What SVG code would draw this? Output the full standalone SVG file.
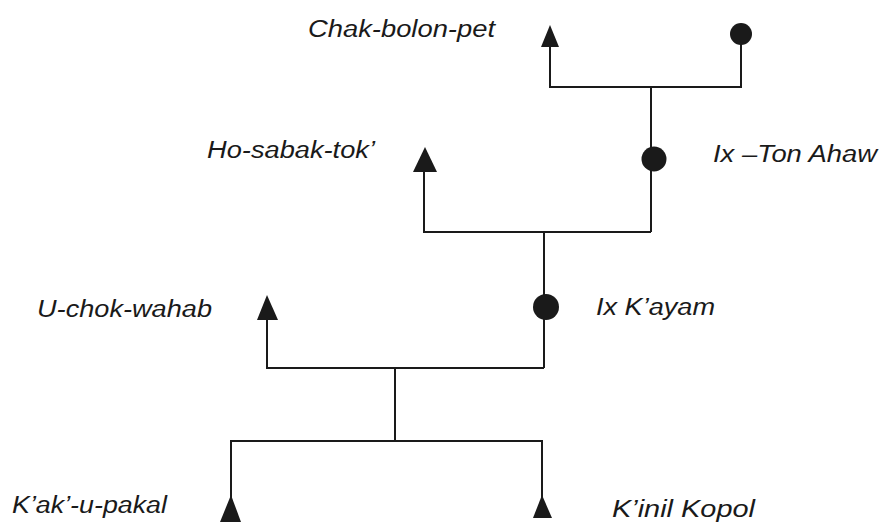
<svg xmlns="http://www.w3.org/2000/svg" width="885" height="522" viewBox="0 0 885 522">
<style>
.ln{stroke:#1a1a1a;stroke-width:2;fill:none}
.m{fill:#1a1a1a}
.t{font-family:"Liberation Sans",Arial,sans-serif;font-style:italic;font-size:23px;fill:#1a1a1a}
</style>
<rect width="885" height="522" fill="#fff"/>
<g id="connectors">
<polyline class="ln" points="550,40 550,87 741,87 741,40"/>
<polyline class="ln" points="651,87 651,232"/>
<polyline class="ln" points="424,165 424,232 651,232"/>
<polyline class="ln" points="544,232 544,368"/>
<polyline class="ln" points="267,312 267,368 544,368"/>
<polyline class="ln" points="395,368 395,441"/>
<polyline class="ln" points="231,505 231,441 542,441 542,505"/>
</g>
<g id="chak-bolon-pet">
<polygon class="m" points="550,25 541,47 559,47"/>
<text class="t" x="308" y="37" textLength="187" lengthAdjust="spacingAndGlyphs">Chak-bolon-pet</text>
</g>
<g id="chak-wife">
<circle class="m" cx="741" cy="34" r="11"/>
</g>
<g id="ho-sabak-tok">
<polygon class="m" points="425,147 413,172 437,172"/>
<text class="t" x="207" y="158" textLength="168" lengthAdjust="spacingAndGlyphs">Ho-sabak-tok’</text>
</g>
<g id="ix-ton-ahaw">
<circle class="m" cx="654" cy="159" r="12.5"/>
<text class="t" x="713" y="162" textLength="164" lengthAdjust="spacingAndGlyphs">Ix –Ton Ahaw</text>
</g>
<g id="u-chok-wahab">
<polygon class="m" points="267,295 257,320 278,320"/>
<text class="t" x="37" y="317" textLength="175" lengthAdjust="spacingAndGlyphs">U-chok-wahab</text>
</g>
<g id="ix-kayam">
<circle class="m" cx="546" cy="307" r="13"/>
<text class="t" x="596" y="315" textLength="119" lengthAdjust="spacingAndGlyphs">Ix K’ayam</text>
</g>
<g id="kak-u-pakal">
<polygon class="m" points="231,495 220,522 241,522"/>
<text class="t" x="12" y="513" textLength="155" lengthAdjust="spacingAndGlyphs">K’ak’-u-pakal</text>
</g>
<g id="kinil-kopol">
<polygon class="m" points="542,495 533,518 552,518"/>
<text class="t" x="612" y="517" textLength="143" lengthAdjust="spacingAndGlyphs">K’inil Kopol</text>
</g>
</svg>
